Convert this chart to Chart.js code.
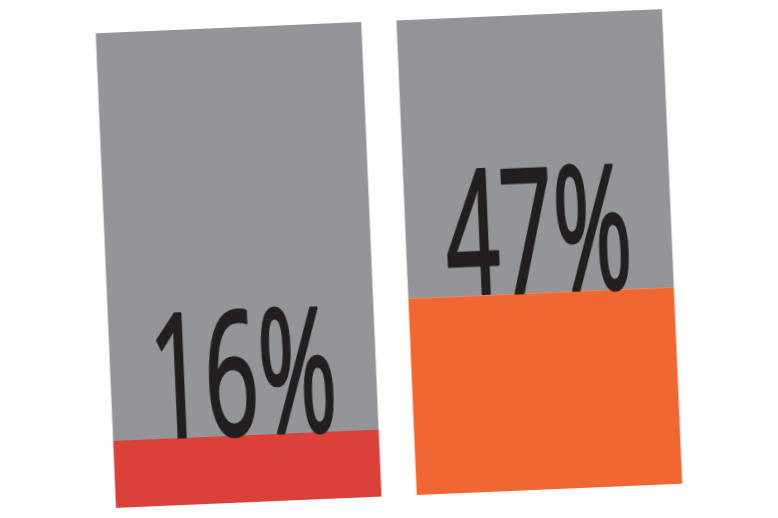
<!DOCTYPE html>
<html>
<head>
<meta charset="utf-8">
<script src="https://cdn.jsdelivr.net/npm/chart.js@4.4.1/dist/chart.umd.min.js"></script>
<style>
  html, body { margin: 0; padding: 0; background: #fff; overflow: hidden; }
  #wrap { width: 778px; height: 518px; position: relative; }
  /* ca bieu do nghieng nhe nhu ban ve tay */
  #myChart { position: absolute; left: 0; top: 0; transform: rotate(-2.45deg); transform-origin: 389px 259px; }
</style>
</head>
<body>
<div id="wrap"><canvas id="myChart" width="778" height="518"></canvas></div>
<script>
/*========== DU LIEU ==========*/
const categories = ['A', 'B'];
const shares = [16, 47];                 // phan tram
const labels = ['16%', '47%'];
const fillColors = ['#D9413A', '#F16733'];
const scaleMax = 113.5;                  // cot xam cao hon 100 mot chut

const restValues = shares.map(v => scaleMax - v);

/*========== PLUGIN VE CHU ==========*/
const percentLabels = {
  id: 'percentLabels',
  afterDatasetsDraw(chart) {
    const ctx = chart.ctx;
    const meta = chart.getDatasetMeta(0);
    ctx.save();
    ctx.fillStyle = '#231F20';
    ctx.strokeStyle = '#231F20';
    ctx.lineWidth = 3;
    ctx.lineJoin = 'round';
    ctx.font = '500 172px "Open Sans"';
    ctx.textAlign = 'center';
    ctx.textBaseline = 'alphabetic';
    meta.data.forEach((bar, i) => {
      ctx.save();
      ctx.translate(bar.x, bar.y - 1);
      ctx.scale(0.55, 1);
      ctx.fillText(labels[i], 0, 0);
      ctx.strokeText(labels[i], 0, 0);
      ctx.restore();
    });
    ctx.restore();
  }
};

/*========== TAO CHART ==========*/
const ctx = document.getElementById('myChart').getContext('2d');

const chart = new Chart(ctx, {
  type: 'bar',
  data: {
    labels: categories,
    datasets: [
      {
        data: shares,
        backgroundColor: fillColors,
        borderWidth: 0,
        barPercentage: 1,
        categoryPercentage: 0.883
      },
      {
        data: restValues,
        backgroundColor: '#939598',
        borderWidth: 0,
        barPercentage: 1,
        categoryPercentage: 0.883
      }
    ]
  },
  options: {
    animation: false,
    responsive: false,
    devicePixelRatio: 1,
    layout: { padding: { left: 88, right: 88, top: 21, bottom: 22 } },
    plugins: { legend: { display: false }, tooltip: { enabled: false } },
    scales: {
      x: { stacked: true, display: false },
      y: { stacked: true, display: false, min: 0, max: scaleMax }
    }
  },
  plugins: [percentLabels]
});
</script>
</body>
</html>
